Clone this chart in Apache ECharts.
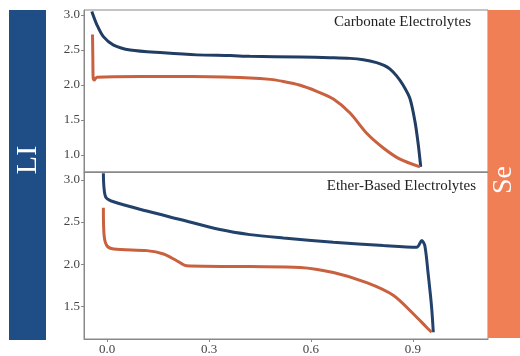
<!DOCTYPE html>
<html>
<head>
<meta charset="utf-8">
<script src="https://cdn.jsdelivr.net/npm/echarts@6/dist/echarts.min.js"></script>
<style>
    html, body { margin: 0; padding: 0; background: #fff; }
    #chart { width: 520px; height: 356px; }
</style>
</head>
<body>
<div id="chart"></div>
<script>
    // capacity (x) vs voltage (y)
    const carbonateLi = [
        [-0.045, 3.05], [-0.030, 2.86], [-0.011, 2.69], [0.019, 2.57], [0.068, 2.50],
        [0.166, 2.46], [0.264, 2.43], [0.362, 2.42], [0.42, 2.41], [0.568, 2.40],
        [0.656, 2.39], [0.715, 2.38], [0.754, 2.36], [0.793, 2.32], [0.815, 2.28],
        [0.832, 2.23], [0.852, 2.13], [0.871, 2.00], [0.891, 1.81], [0.906, 1.48],
        [0.916, 1.14], [0.923, 0.83]
    ]
    const carbonateSe = [
        [-0.043, 2.72], [-0.042, 2.40], [-0.041, 2.10], [-0.038, 2.07], [-0.030, 2.11],
        [0.10, 2.12], [0.25, 2.12], [0.42, 2.10], [0.48, 2.08], [0.519, 2.05],
        [0.566, 2.00], [0.617, 1.91], [0.666, 1.80], [0.715, 1.60], [0.764, 1.31],
        [0.813, 1.10], [0.862, 0.94], [0.921, 0.83]
    ]
    const etherLi = [
        [-0.011, 3.08], [-0.009, 2.90], [-0.003, 2.79], [0.019, 2.74], [0.117, 2.63],
        [0.215, 2.53], [0.332, 2.41], [0.42, 2.35], [0.519, 2.31], [0.666, 2.26],
        [0.813, 2.22], [0.911, 2.20], [0.926, 2.28], [0.935, 2.22], [0.945, 1.88],
        [0.955, 1.49], [0.960, 1.19]
    ]
    const etherSe = [
        [-0.011, 2.67], [-0.009, 2.35], [-0.001, 2.22], [0.019, 2.18], [0.117, 2.16],
        [0.166, 2.12], [0.205, 2.04], [0.234, 1.98], [0.42, 1.97], [0.568, 1.96],
        [0.666, 1.90], [0.764, 1.78], [0.842, 1.63], [0.901, 1.41], [0.940, 1.25],
        [0.955, 1.19]
    ]
    const xTicks = [0, 0.3, 0.6, 0.9]
    const topTicks = [1.0, 1.5, 2.0, 2.5, 3.0]
    const bottomTicks = [1.5, 2.0, 2.5, 3.0]
    const panelTitles = ['Carbonate Electrolytes', 'Ether-Based Electrolytes']

    const serif = '"Liberation Serif", "DejaVu Serif", serif'
    const labelStyle = { color: '#444', fontFamily: serif, fontSize: 13 }

    function makeY(idx, min, max, ticks) {
        return {
            type: 'value', gridIndex: idx, min: min, max: max,
            splitLine: { show: false },
            axisLine: { show: true, onZero: false, lineStyle: { color: '#888' } },
            axisTick: { show: true, length: 3, customValues: ticks, lineStyle: { color: '#888' } },
            axisLabel: Object.assign({ margin: 4, customValues: ticks, formatter: v => v.toFixed(1) }, labelStyle)
        }
    }
    function makeX(idx, showLabel) {
        return {
            type: 'value', gridIndex: idx, min: -0.068, max: 1.121,
            splitLine: { show: false },
            axisLine: { show: true, onZero: false, lineStyle: { color: '#888' } },
            axisTick: { show: showLabel, length: 3, customValues: xTicks, lineStyle: { color: '#888' } },
            axisLabel: Object.assign({ show: showLabel, margin: 4, customValues: xTicks, formatter: v => v.toFixed(1) }, labelStyle)
        }
    }
    function line(data, idx, color) {
        return {
            type: 'line', xAxisIndex: idx, yAxisIndex: idx, data: data,
            smooth: 0.3, showSymbol: false, clip: true,
            lineStyle: { color: color, width: 3 }
        }
    }

    let myChart = echarts.init(document.getElementById('chart'))
    myChart.setOption({
        animation: false,
        grid: [
            { left: 84, top: 10, width: 404, height: 162, show: true, borderColor: '#888', borderWidth: 1 },
            { left: 84, top: 172, width: 404, height: 168, show: true, borderColor: '#888', borderWidth: 1 }
        ],
        xAxis: [makeX(0, false), makeX(1, true)],
        yAxis: [makeY(0, 0.757, 3.071, topTicks), makeY(1, 1.11, 3.094, bottomTicks)],
        series: [
            line(carbonateLi, 0, '#213d63'),
            line(carbonateSe, 0, '#c9603e'),
            line(etherLi, 1, '#22426c'),
            line(etherSe, 1, '#c9603e')
        ],
        graphic: [
            { type: 'rect', shape: { x: 9, y: 10, width: 37, height: 330 }, style: { fill: '#1f4e87' } },
            { type: 'rect', shape: { x: 488, y: 10, width: 32, height: 328 }, style: { fill: '#f07f55' } },
            { type: 'text', x: 28, y: 160, rotation: Math.PI / 2,
              style: { text: 'LI', fill: '#fff', font: '30px ' + serif, align: 'center', verticalAlign: 'middle' } },
            { type: 'text', x: 504, y: 180, rotation: Math.PI / 2,
              style: { text: 'Se', fill: '#fff', font: '28px ' + serif, align: 'center', verticalAlign: 'middle' } },
            { type: 'text', x: 471, y: 22,
              style: { text: panelTitles[0], fill: '#222', font: '15px ' + serif, align: 'right', verticalAlign: 'middle' } },
            { type: 'text', x: 476, y: 186,
              style: { text: panelTitles[1], fill: '#222', font: '15px ' + serif, align: 'right', verticalAlign: 'middle' } }
        ]
    })
</script>
</body>
</html>
